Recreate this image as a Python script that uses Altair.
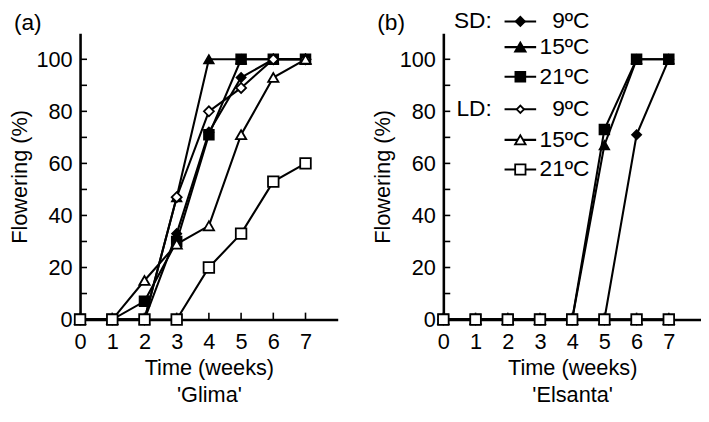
import altair as alt
import pandas as pd

weeks = [0, 1, 2, 3, 4, 5, 6, 7]
series = ["SD 9ºC", "SD 15ºC", "SD 21ºC", "LD 9ºC", "LD 15ºC", "LD 21ºC"]

glima = {
    "SD 9ºC":  [0, 0, 0, 33, 72, 93, 100, 100],
    "SD 15ºC": [0, 0, 0, 47, 100, 100, 100, 100],
    "SD 21ºC": [0, 0, 7, 30, 71, 100, 100, 100],
    "LD 9ºC":  [0, 0, 0, 47, 80, 89, 100, 100],
    "LD 15ºC": [0, 0, 15, 29, 36, 71, 93, 100],
    "LD 21ºC": [0, 0, 0, 0, 20, 33, 53, 60],
}
elsanta = {
    "SD 9ºC":  [0, 0, 0, 0, 0, 0, 71, 100],
    "SD 15ºC": [0, 0, 0, 0, 0, 67, 100, 100],
    "SD 21ºC": [0, 0, 0, 0, 0, 73, 100, 100],
    "LD 9ºC":  [0, 0, 0, 0, 0, 0, 0, 0],
    "LD 15ºC": [0, 0, 0, 0, 0, 0, 0, 0],
    "LD 21ºC": [0, 0, 0, 0, 0, 0, 0, 0],
}

shapes = ["diamond", "triangle-up", "square", "diamond", "triangle-up", "square"]
fills = ["black", "black", "black", "white", "white", "white"]
sizes = [85, 115, 100, 55, 115, 110]
legend_labels = ["9ºC", "15ºC", "21ºC", "9ºC", "15ºC", "21ºC"]
group_labels = ["SD:", "LD:"]
y_label_values = [0, 20, 40, 60, 80, 100]
y_tick_values = [0, 10, 20, 30, 40, 50, 60, 70, 80, 90, 100]

FONT = "Liberation Sans"
W, H = 261, 290


def panel(values, tag, subtitle, with_legend):
    rows = []
    for s in series:
        for w, v in zip(weeks, values[s]):
            rows.append({"series": s, "week": w, "value": v})
    df = pd.DataFrame(rows)

    xs = alt.Scale(domain=[0, 8], nice=False)
    ys = alt.Scale(domain=[0, 110], nice=False)
    x_axis = alt.Axis(values=weeks, title=["Time (weeks)", subtitle],
                      labelPadding=12, titlePadding=6, titleLineHeight=27,
                      labelOverlap=False, labelFlush=False)
    y_axis = alt.Axis(values=y_label_values, title="Flowering (%)",
                      labelPadding=8, titlePadding=5,
                      labelOverlap=False, labelFlush=False)
    x = alt.X("week:Q", scale=xs, axis=x_axis)
    y = alt.Y("value:Q", scale=ys, axis=y_axis)

    lines = alt.Chart(df).mark_line(color="black", strokeWidth=2.1).encode(
        x=x, y=y, detail="series:N", order="week:Q")
    points = alt.Chart(df).mark_point(stroke="black", strokeWidth=1.8,
                                      opacity=1, fillOpacity=1).encode(
        x=x, y=y,
        shape=alt.Shape("series:N", scale=alt.Scale(domain=series, range=shapes), legend=None),
        fill=alt.Fill("series:N", scale=alt.Scale(domain=series, range=fills), legend=None),
        size=alt.Size("series:N", scale=alt.Scale(domain=series, range=sizes), legend=None),
    )

    ytick_df = pd.DataFrame({"value": y_tick_values})
    yticks = alt.Chart(ytick_df).mark_rule(color="black", strokeWidth=1.6).encode(
        y=alt.Y("value:Q", scale=ys, axis=y_axis), x=alt.value(0), x2=alt.value(7))
    xtick_df = pd.DataFrame({"week": weeks})
    xticks = alt.Chart(xtick_df).mark_rule(color="black", strokeWidth=1.6).encode(
        x=alt.X("week:Q", scale=xs, axis=x_axis), y=alt.value(H), y2=alt.value(H - 7))

    one = pd.DataFrame({"a": [0]})
    tag_text = alt.Chart(one).mark_text(text=tag, font=FONT, fontSize=23, align="left",
                                        baseline="middle", color="black").encode(
        x=alt.value(-67), y=alt.value(-10))

    layers = [yticks, xticks, lines, points, tag_text]

    if with_legend:
        row_y = [-12, 14, 44, 77, 108, 138]
        for i, lab in enumerate(legend_labels):
            ry = row_y[i]
            layers.append(alt.Chart(one).mark_rule(color="black", strokeWidth=2.1).encode(
                x=alt.value(62), x2=alt.value(94), y=alt.value(ry)))
            layers.append(alt.Chart(one).mark_point(
                shape=shapes[i], size=sizes[i], fill=fills[i], stroke="black",
                strokeWidth=1.8, opacity=1, fillOpacity=1).encode(
                x=alt.value(78), y=alt.value(ry)))
            layers.append(alt.Chart(one).mark_text(
                text=lab, font=FONT, fontSize=23, align="right", baseline="middle",
                color="black").encode(x=alt.value(148), y=alt.value(ry)))
        for lab, ry in zip(group_labels, [row_y[0], row_y[3]]):
            layers.append(alt.Chart(one).mark_text(
                text=lab, font=FONT, fontSize=23, align="right", baseline="middle",
                color="black").encode(x=alt.value(49), y=alt.value(ry)))

    return alt.layer(*layers).properties(width=W, height=H)


a = panel(glima, "(a)", "'Glima'", False)
b = panel(elsanta, "(b)", "'Elsanta'", True)

chart = alt.hconcat(a, b, spacing=107, bounds="flush").properties(
    padding={"left": 0, "top": 0, "right": 0, "bottom": 0},
).configure_axis(
    labelFont=FONT, labelFontSize=22, labelColor="black",
    titleFont=FONT, titleFontSize=22, titleFontWeight="normal", titleColor="black",
    domainColor="black", domainWidth=2.6, ticks=False, grid=False,
    labelOverlap=False, labelFlush=False,
).configure_view(stroke=None)

chart.save("out.html", embed_options={"renderer": "svg", "actions": False})
